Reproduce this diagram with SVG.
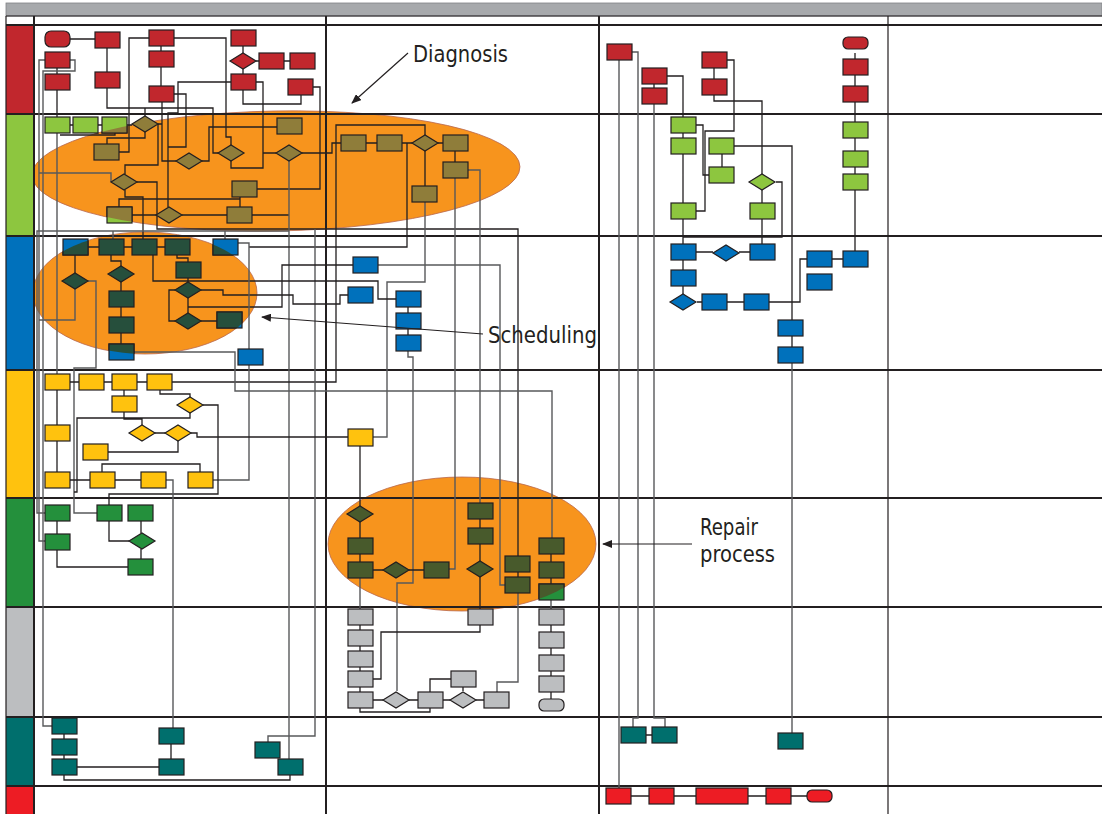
<svg xmlns="http://www.w3.org/2000/svg" width="1102" height="814" viewBox="0 0 1102 814">
<style>
.n{stroke:#231F20;stroke-width:1.2}
.red{fill:#C1272D}.lg{fill:#8DC63F}.olv{fill:#8F7D3A}.blu{fill:#0071BC}.dkb{fill:#264F3C}
.yel{fill:#FFC20E}.grn{fill:#24903C}.dkg{fill:#485A2C}.gry{fill:#BCBEC0}.tea{fill:#006F6D}.bred{fill:#ED1C24}
.c{fill:none;stroke:#231F20;stroke-width:1.3}
.cg{fill:none;stroke:#58595B;stroke-width:1.4}
.grid{stroke:#231F20;fill:none}
.lbl{font-family:"Liberation Sans Narrow","DejaVu Sans Condensed","Liberation Sans",sans-serif;font-size:23px;fill:#231F20}
.ell{fill:#F7941D;stroke:#B8674F;stroke-width:0.8}
</style>
<defs>
<marker id="ah" markerWidth="10" markerHeight="8" refX="9" refY="4" orient="auto" markerUnits="userSpaceOnUse"><path d="M0,0 L10,4 L0,8 z" fill="#231F20"/></marker>
<clipPath id="clipD"><ellipse cx="276" cy="171" rx="244" ry="60" transform="rotate(-1 276 171)"/></clipPath>
<clipPath id="clipS"><ellipse cx="145" cy="293" rx="112" ry="61"/></clipPath>
<clipPath id="clipR"><ellipse cx="462" cy="544" rx="134" ry="67"/></clipPath>
</defs>
<rect x="0" y="0" width="1102" height="814" fill="#FFFFFF"/>
<g id="header">
<rect x="6" y="3" width="1096" height="13" fill="#A7A9AC" stroke="#808285" stroke-width="0.8"/>
</g>
<g id="ellipses">
<ellipse id="diagnosis-area" class="ell" cx="276" cy="171" rx="244" ry="60" transform="rotate(-1 276 171)"/>
<ellipse id="scheduling-area" class="ell" cx="145" cy="293" rx="112" ry="61"/>
<ellipse id="repair-area" class="ell" cx="462" cy="544" rx="134" ry="67"/>
</g>
<g id="lanes">
<rect x="6" y="25" width="27" height="89" fill="#C1272D"/>
<rect x="6" y="114" width="27" height="122" fill="#8DC63F"/>
<rect x="6" y="236" width="27" height="134" fill="#0071BC"/>
<rect x="6" y="370" width="27" height="128" fill="#FFC20E"/>
<rect x="6" y="498" width="27" height="109" fill="#24903C"/>
<rect x="6" y="607" width="27" height="110" fill="#BCBEC0"/>
<rect x="6" y="717" width="27" height="69" fill="#006F6D"/>
<rect x="6" y="786" width="27" height="28" fill="#ED1C24"/>
<path class="grid" stroke-width="1.2" d="M6,16 H1102"/>
<path class="grid" stroke-width="2" d="M6,25 H1102 M6,114 H1102 M6,236 H1102 M6,370 H1102 M6,498 H1102 M6,607 H1102 M6,717 H1102 M6,786 H1102"/>
<path class="grid" stroke-width="1.2" d="M6,16 V814 M888,16 V814"/>
<path class="grid" stroke-width="2" d="M34,16 V814 M326,16 V814 M599,16 V814"/>
</g>
<g id="connectors">
<path class="c" d="M70,39 H95 M107,48 V72 M107,88 V108 H213 V153 H218 M145,108 V116 M57,68 V74 M57,90 V117"/>
<path class="cg" d="M45,60 H39 V541 H45 M70,60 H75 V71 H43 V726 H52"/>
<path class="c" d="M161,46 V51 M161,67 V86 M149,38 H129 V152 H119 M174,38 H226 V137 H231 V145"/>
<path class="c" d="M243,46 V53 M256,61 H259 M284,61 H290 M243,69 V74 M243,90 V104 H301 V95 M256,82 H263 V168 H231 V161 M231,82 H178 V113 H168 V207 M313,87 H320 V189 H257"/>
<path class="c" d="M162,102 V161 H176 M174,94 H186 V147 H168"/>
<path class="c" d="M70,125 H73 M98,125 H102 M127,125 H132 M60,135 H115 V133 M145,132 V138 H107 V144 M158,124 H162 M125,174 V165 H158 V124"/>
<path class="cg" d="M57,133 V374 M111,182 V173 H39"/>
<path class="c" d="M137,182 H157 V229 H518 V556 M125,190 V197 H143 V239 M119,207 V199 H240 M240,197 V207 M132,215 H156 M182,215 H227 M252,215 H289"/>
<path class="c" d="M277,127 H209 V161 H202 M263,153 H276 M302,153 H332 V143 H341"/>
<path class="cg" d="M289,161 V759"/>
<path class="c" d="M366,143 H377 M402,143 H412 M438,143 H443 M455,151 V162 M425,151 V186"/>
<path class="c" d="M172,382 H336 V125 H425 V135 M407,143 V247 H249"/>
<path class="cg" d="M425,202 V282 H387 V437 H373 M455,178 V569 H449 M468,170 H480 V503"/>
<path class="cg" d="M289,231 H37 V513 H45 M113,231 V239 M225,231 V239 M315,229 V736 H268 V742"/>
<path class="c" d="M88,247 H99 M124,247 H132 M157,247 H165 M75,255 V273 M111,255 V261 H121 V266 M121,282 V291 M121,307 V317 M121,333 V344"/>
<path class="cg" d="M75,289 V320 H39 M88,281 H96 V368 H74 V513 H97"/>
<path class="c" d="M153,255 V281 H378 V299 H396 M177,255 V258 H188 V262 M188,278 V282 M175,290 H169 V321 H175 M188,298 V313 M188,307 H282 V265 H353 M201,321 H217"/>
<path class="c" d="M201,290 H223 V295 H293 V304 H340 V295 H348"/>
<path class="cg" d="M134,352 H235 V391 H552 V538 M238,243 H249 V480 H213 M378,265 H500 V585 H505"/>
<path class="c" d="M408,307 V313 M408,329 V335"/>
<path class="cg" d="M408,351 V357 H413 V583 H397 V691"/>
<path class="c" d="M70,382 H79 M104,382 H112 M137,382 H147 M124,390 V396 M160,390 V394 H190 V397 M203,405 H218 V494 H109 V505 M190,413 V418 H77 V492 H74 M124,412 V419 H142 V425 M155,433 H165 M178,441 V452 H108 M191,433 H197 V437 H348 M57,390 V425 M57,441 V472 M70,480 H90 M115,480 H141 M102,472 V464 H200 V472"/>
<path class="cg" d="M166,480 H173 V728"/>
<path class="c" stroke-width="2" d="M360,446 V506"/>
<path class="c" d="M57,521 V534 M57,550 V567 H128 M109,521 V541 H129 M141,521 V533 M141,549 V559"/>
<path class="c" d="M360,522 V538 M360,554 V562 M373,570 H383 M409,570 H424 M480,519 V528 M480,544 V561 M480,577 V609 M518,572 V577 M551,554 V562 M551,578 V584"/>
<path class="cg" d="M518,593 V682 H497 V692 M551,600 V609 M360,578 V609"/>
<path class="c" d="M360,625 V630 M360,646 V651 M360,667 V671 M360,687 V692 M551,625 V632 M551,648 V655 M551,671 V676 M551,692 V699 M480,625 V632 H381 V679 H373 M373,700 H383 M360,708 V712 H430 V708 M409,700 H418 M443,700 H450 M463,687 V691 M451,679 H430 V692 M476,700 H484"/>
<path class="c" d="M64,734 V739 M64,755 V759 M77,767 H159 M171,744 V759 M64,775 V780 H290 V775"/>
<path class="cg" d="M619,60 V788 M632,52 H638 V718 H633 V727 M654,104 V718 H665 V727 M792,363 V733"/>
<path class="c" d="M654,84 V88 M646,735 H652 M667,76 H683 V117 M683,133 V138 M683,154 V203 M696,125 H703 V175 H709 M714,68 V79 M727,60 H734 V131 H705 V211 H696 M714,95 V101 H762 V174 M722,154 V167 M734,146 H792 V320 M792,336 V347 M762,190 V203 M776,182 H782 V237 H683 M683,219 V244 M762,219 V244 M696,252 H713 M739,252 H750 M683,260 V270 M683,286 V294 M697,302 H702 M727,302 H744 M769,302 H800 V259 H807 M832,259 H843"/>
<path class="c" d="M855,53 V59 M855,75 V86 M855,102 V122 M855,138 V151 M855,167 V174 M855,190 V251"/>
<path class="c" d="M631,796 H649 M674,796 H696 M748,796 H766 M791,796 H807"/>
</g>
<g id="nodes">
<g id="r1"><rect class="n red" x="45" y="31" width="25" height="16" rx="6"/></g>
<g id="r2"><rect class="n red" x="95" y="32" width="25" height="16"/></g>
<g id="r3"><rect class="n red" x="149" y="30" width="25" height="16"/></g>
<g id="r4"><rect class="n red" x="231" y="30" width="25" height="16"/></g>
<g id="r5"><rect class="n red" x="45" y="52" width="25" height="16"/></g>
<g id="r6"><rect class="n red" x="149" y="51" width="25" height="16"/></g>
<g id="r7"><polygon class="n red" points="230,61 243,53 256,61 243,69"/></g>
<g id="r8"><rect class="n red" x="259" y="53" width="25" height="16"/></g>
<g id="r9"><rect class="n red" x="290" y="53" width="25" height="16"/></g>
<g id="r10"><rect class="n red" x="45" y="74" width="25" height="16"/></g>
<g id="r11"><rect class="n red" x="95" y="72" width="25" height="16"/></g>
<g id="r12"><rect class="n red" x="231" y="74" width="25" height="16"/></g>
<g id="r13"><rect class="n red" x="288" y="79" width="25" height="16"/></g>
<g id="r14"><rect class="n red" x="149" y="86" width="25" height="16"/></g>
<g id="g1"><rect class="n lg" x="45" y="117" width="25" height="16"/></g>
<g id="g2"><rect class="n lg" x="73" y="117" width="25" height="16"/><rect class="n olv" x="73" y="117" width="25" height="16" clip-path="url(#clipD)"/></g>
<g id="g3"><rect class="n lg" x="102" y="117" width="25" height="16"/><rect class="n olv" x="102" y="117" width="25" height="16" clip-path="url(#clipD)"/></g>
<g id="g4"><polygon class="n olv" points="132,124 145,116 158,124 145,132"/></g>
<g id="g5"><rect class="n olv" x="277" y="118" width="25" height="16"/></g>
<g id="g6"><rect class="n olv" x="94" y="144" width="25" height="16"/></g>
<g id="g7"><polygon class="n olv" points="176,161 189,153 202,161 189,169"/></g>
<g id="g8"><polygon class="n olv" points="218,153 231,145 244,153 231,161"/></g>
<g id="g9"><polygon class="n olv" points="276,153 289,145 302,153 289,161"/></g>
<g id="g10"><polygon class="n olv" points="111,182 124,174 137,182 124,190"/></g>
<g id="g11"><rect class="n olv" x="232" y="181" width="25" height="16"/></g>
<g id="g12"><rect class="n lg" x="107" y="207" width="25" height="16"/><rect class="n olv" x="107" y="207" width="25" height="16" clip-path="url(#clipD)"/></g>
<g id="g13"><polygon class="n olv" points="156,215 169,207 182,215 169,223"/></g>
<g id="g14"><rect class="n olv" x="227" y="207" width="25" height="16"/></g>
<g id="g15"><rect class="n olv" x="341" y="135" width="25" height="16"/></g>
<g id="g16"><rect class="n olv" x="377" y="135" width="25" height="16"/></g>
<g id="g17"><polygon class="n olv" points="412,143 425,135 438,143 425,151"/></g>
<g id="g18"><rect class="n olv" x="443" y="135" width="25" height="16"/></g>
<g id="g19"><rect class="n olv" x="443" y="162" width="25" height="16"/></g>
<g id="g20"><rect class="n olv" x="412" y="186" width="25" height="16"/></g>
<g id="b1"><rect class="n blu" x="63" y="239" width="25" height="16"/><rect class="n dkb" x="63" y="239" width="25" height="16" clip-path="url(#clipS)"/></g>
<g id="b2"><rect class="n dkb" x="99" y="239" width="25" height="16"/></g>
<g id="b3"><rect class="n dkb" x="132" y="239" width="25" height="16"/></g>
<g id="b4"><rect class="n dkb" x="165" y="239" width="25" height="16"/></g>
<g id="b5"><rect class="n blu" x="213" y="239" width="25" height="16"/><rect class="n dkb" x="213" y="239" width="25" height="16" clip-path="url(#clipS)"/></g>
<g id="b6"><rect class="n dkb" x="176" y="262" width="25" height="16"/></g>
<g id="b7"><polygon class="n dkb" points="62,281 75,273 88,281 75,289"/></g>
<g id="b8"><polygon class="n dkb" points="108,274 121,266 134,274 121,282"/></g>
<g id="b9"><rect class="n dkb" x="109" y="291" width="25" height="16"/></g>
<g id="b10"><polygon class="n dkb" points="175,290 188,282 201,290 188,298"/></g>
<g id="b11"><rect class="n dkb" x="109" y="317" width="25" height="16"/></g>
<g id="b12"><polygon class="n dkb" points="175,321 188,313 201,321 188,329"/></g>
<g id="b13"><rect class="n blu" x="217" y="312" width="25" height="16"/><rect class="n dkb" x="217" y="312" width="25" height="16" clip-path="url(#clipS)"/></g>
<g id="b14"><rect class="n blu" x="109" y="344" width="25" height="16"/><rect class="n dkb" x="109" y="344" width="25" height="16" clip-path="url(#clipS)"/></g>
<g id="b15"><rect class="n blu" x="238" y="349" width="25" height="16"/></g>
<g id="b16"><rect class="n blu" x="353" y="257" width="25" height="16"/></g>
<g id="b17"><rect class="n blu" x="348" y="287" width="25" height="16"/></g>
<g id="b18"><rect class="n blu" x="396" y="291" width="25" height="16"/></g>
<g id="b19"><rect class="n blu" x="396" y="313" width="25" height="16"/></g>
<g id="b20"><rect class="n blu" x="396" y="335" width="25" height="16"/></g>
<g id="y1"><rect class="n yel" x="45" y="374" width="25" height="16"/></g>
<g id="y2"><rect class="n yel" x="79" y="374" width="25" height="16"/></g>
<g id="y3"><rect class="n yel" x="112" y="374" width="25" height="16"/></g>
<g id="y4"><rect class="n yel" x="147" y="374" width="25" height="16"/></g>
<g id="y5"><rect class="n yel" x="112" y="396" width="25" height="16"/></g>
<g id="y6"><polygon class="n yel" points="177,405 190,397 203,405 190,413"/></g>
<g id="y7"><rect class="n yel" x="45" y="425" width="25" height="16"/></g>
<g id="y8"><polygon class="n yel" points="129,433 142,425 155,433 142,441"/></g>
<g id="y9"><polygon class="n yel" points="165,433 178,425 191,433 178,441"/></g>
<g id="y10"><rect class="n yel" x="83" y="444" width="25" height="16"/></g>
<g id="y11"><rect class="n yel" x="45" y="472" width="25" height="16"/></g>
<g id="y12"><rect class="n yel" x="90" y="472" width="25" height="16"/></g>
<g id="y13"><rect class="n yel" x="141" y="472" width="25" height="16"/></g>
<g id="y14"><rect class="n yel" x="188" y="472" width="25" height="16"/></g>
<g id="y15"><rect class="n yel" x="348" y="429" width="25" height="17"/></g>
<g id="e1"><rect class="n grn" x="45" y="505" width="25" height="16"/></g>
<g id="e2"><rect class="n grn" x="97" y="505" width="25" height="16"/></g>
<g id="e3"><rect class="n grn" x="128" y="505" width="25" height="16"/></g>
<g id="e4"><rect class="n grn" x="45" y="534" width="25" height="16"/></g>
<g id="e5"><polygon class="n grn" points="129,541 142,533 155,541 142,549"/></g>
<g id="e6"><rect class="n grn" x="128" y="559" width="25" height="16"/></g>
<g id="p1"><polygon class="n dkg" points="347,514 360,506 373,514 360,522"/></g>
<g id="p2"><rect class="n dkg" x="348" y="538" width="25" height="16"/></g>
<g id="p3"><rect class="n dkg" x="348" y="562" width="25" height="16"/></g>
<g id="p4"><polygon class="n dkg" points="383,570 396,562 409,570 396,578"/></g>
<g id="p5"><rect class="n dkg" x="424" y="562" width="25" height="16"/></g>
<g id="p6"><rect class="n dkg" x="468" y="503" width="25" height="16"/></g>
<g id="p7"><rect class="n dkg" x="468" y="528" width="25" height="16"/></g>
<g id="p8"><polygon class="n dkg" points="467,569 480,561 493,569 480,577"/></g>
<g id="p9"><rect class="n dkg" x="505" y="556" width="25" height="16"/></g>
<g id="p10"><rect class="n dkg" x="505" y="577" width="25" height="16"/></g>
<g id="p11"><rect class="n dkg" x="539" y="538" width="25" height="16"/></g>
<g id="p12"><rect class="n dkg" x="539" y="562" width="25" height="16"/></g>
<g id="p13"><rect class="n grn" x="539" y="584" width="25" height="16"/><rect class="n dkg" x="539" y="584" width="25" height="16" clip-path="url(#clipR)"/></g>
<g id="s1"><rect class="n gry" x="348" y="609" width="25" height="16"/></g>
<g id="s2"><rect class="n gry" x="348" y="630" width="25" height="16"/></g>
<g id="s3"><rect class="n gry" x="348" y="651" width="25" height="16"/></g>
<g id="s4"><rect class="n gry" x="348" y="671" width="25" height="16"/></g>
<g id="s5"><rect class="n gry" x="348" y="692" width="25" height="16"/></g>
<g id="s6"><polygon class="n gry" points="383,700 396,692 409,700 396,708"/></g>
<g id="s7"><rect class="n gry" x="418" y="692" width="25" height="16"/></g>
<g id="s8"><rect class="n gry" x="451" y="671" width="25" height="16"/></g>
<g id="s9"><polygon class="n gry" points="450,700 463,692 476,700 463,708"/></g>
<g id="s10"><rect class="n gry" x="484" y="692" width="25" height="16"/></g>
<g id="s11"><rect class="n gry" x="468" y="609" width="25" height="16"/></g>
<g id="s12"><rect class="n gry" x="539" y="609" width="25" height="16"/></g>
<g id="s13"><rect class="n gry" x="539" y="632" width="25" height="16"/></g>
<g id="s14"><rect class="n gry" x="539" y="655" width="25" height="16"/></g>
<g id="s15"><rect class="n gry" x="539" y="676" width="25" height="16"/></g>
<g id="s16"><rect class="n gry" x="539" y="699" width="25" height="12" rx="5"/></g>
<g id="t1"><rect class="n tea" x="52" y="718" width="25" height="16"/></g>
<g id="t2"><rect class="n tea" x="52" y="739" width="25" height="16"/></g>
<g id="t3"><rect class="n tea" x="52" y="759" width="25" height="16"/></g>
<g id="t4"><rect class="n tea" x="159" y="728" width="25" height="16"/></g>
<g id="t5"><rect class="n tea" x="159" y="759" width="25" height="16"/></g>
<g id="t6"><rect class="n tea" x="255" y="742" width="25" height="16"/></g>
<g id="t7"><rect class="n tea" x="278" y="759" width="25" height="16"/></g>
<g id="rr1"><rect class="n red" x="607" y="44" width="25" height="16"/></g>
<g id="rr2"><rect class="n red" x="642" y="68" width="25" height="16"/></g>
<g id="rr3"><rect class="n red" x="642" y="88" width="25" height="16"/></g>
<g id="rr4"><rect class="n red" x="702" y="52" width="25" height="16"/></g>
<g id="rr5"><rect class="n red" x="702" y="79" width="25" height="16"/></g>
<g id="rr6"><rect class="n red" x="843" y="37" width="25" height="12" rx="5"/></g>
<g id="rr7"><rect class="n red" x="843" y="59" width="25" height="16"/></g>
<g id="rr8"><rect class="n red" x="843" y="86" width="25" height="16"/></g>
<g id="rg1"><rect class="n lg" x="671" y="117" width="25" height="16"/></g>
<g id="rg2"><rect class="n lg" x="671" y="138" width="25" height="16"/></g>
<g id="rg3"><rect class="n lg" x="709" y="138" width="25" height="16"/></g>
<g id="rg4"><rect class="n lg" x="709" y="167" width="25" height="16"/></g>
<g id="rg5"><polygon class="n lg" points="749,182 762,174 775,182 762,190"/></g>
<g id="rg6"><rect class="n lg" x="671" y="203" width="25" height="16"/></g>
<g id="rg7"><rect class="n lg" x="750" y="203" width="25" height="16"/></g>
<g id="rg8"><rect class="n lg" x="843" y="122" width="25" height="16"/></g>
<g id="rg9"><rect class="n lg" x="843" y="151" width="25" height="16"/></g>
<g id="rg10"><rect class="n lg" x="843" y="174" width="25" height="16"/></g>
<g id="rb1"><rect class="n blu" x="671" y="244" width="25" height="16"/></g>
<g id="rb2"><polygon class="n blu" points="713,253 726,245 739,253 726,261"/></g>
<g id="rb3"><rect class="n blu" x="750" y="244" width="25" height="16"/></g>
<g id="rb4"><rect class="n blu" x="671" y="270" width="25" height="16"/></g>
<g id="rb5"><polygon class="n blu" points="670,302 683,294 696,302 683,310"/></g>
<g id="rb6"><rect class="n blu" x="702" y="294" width="25" height="16"/></g>
<g id="rb7"><rect class="n blu" x="744" y="294" width="25" height="16"/></g>
<g id="rb8"><rect class="n blu" x="807" y="251" width="25" height="16"/></g>
<g id="rb9"><rect class="n blu" x="843" y="251" width="25" height="16"/></g>
<g id="rb10"><rect class="n blu" x="807" y="274" width="25" height="16"/></g>
<g id="rb11"><rect class="n blu" x="778" y="320" width="25" height="16"/></g>
<g id="rb12"><rect class="n blu" x="778" y="347" width="25" height="16"/></g>
<g id="rt1"><rect class="n tea" x="621" y="727" width="25" height="16"/></g>
<g id="rt2"><rect class="n tea" x="652" y="727" width="25" height="16"/></g>
<g id="rt3"><rect class="n tea" x="778" y="733" width="25" height="16"/></g>
<g id="rx1"><rect class="n bred" x="606" y="788" width="25" height="16"/></g>
<g id="rx2"><rect class="n bred" x="649" y="788" width="25" height="16"/></g>
<g id="rx3"><rect class="n bred" x="696" y="788" width="52" height="16"/></g>
<g id="rx4"><rect class="n bred" x="766" y="788" width="25" height="16"/></g>
<g id="rx5"><rect class="n bred" x="807" y="790" width="25" height="12" rx="5"/></g>
</g>
<g id="annotations">
<path d="M408,53 L352,103" stroke="#231F20" stroke-width="1.2" fill="none" marker-end="url(#ah)"/>
<text class="lbl" x="413" y="62" textLength="95" lengthAdjust="spacingAndGlyphs">Diagnosis</text>
<path d="M483,334 L262,317" stroke="#231F20" stroke-width="1.2" fill="none" marker-end="url(#ah)"/>
<text class="lbl" x="488" y="343" textLength="109" lengthAdjust="spacingAndGlyphs">Scheduling</text>
<path d="M692,544 L603,544" stroke="#231F20" stroke-width="1.2" fill="none" marker-end="url(#ah)"/>
<text class="lbl" x="700" y="535" textLength="58" lengthAdjust="spacingAndGlyphs">Repair</text>
<text class="lbl" x="700" y="562" textLength="75" lengthAdjust="spacingAndGlyphs">process</text>
</g>
</svg>
